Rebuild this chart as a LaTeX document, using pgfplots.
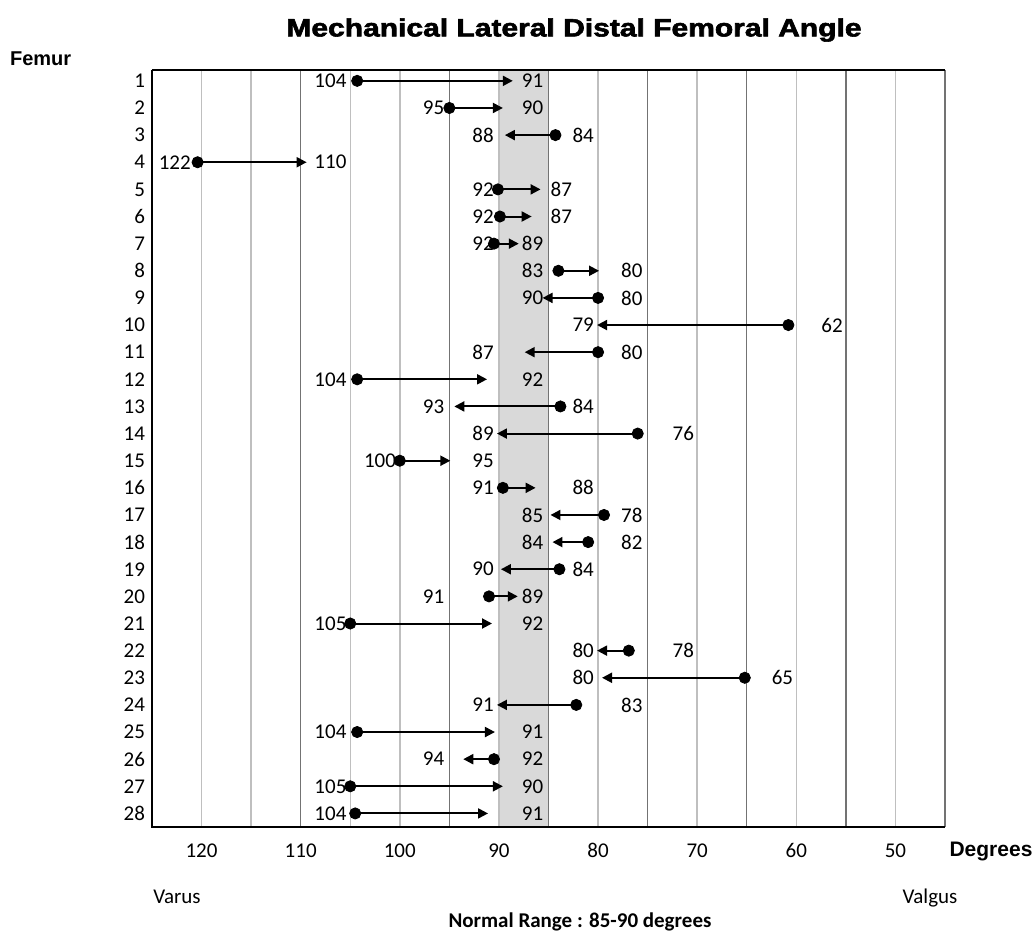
\documentclass[border=0pt]{standalone}
\usepackage{fontspec}
\setmainfont{Carlito}[Numbers=Lining]
\newfontfamily\arialfont{Liberation Sans}
\newfontfamily\titlefont{Liberation Sans}[BoldFeatures={FakeBold=2.2}]
\usepackage{graphicx}
\usepackage{pgfplots}
\usepackage{pgfplotstable}
\pgfplotsset{compat=1.18}
\usetikzlibrary{arrows.meta}

% femur, start angle (dot), end angle (arrow tip)
\pgfplotstableread{
r s e
1 104.3 88.6
2 95.0 89.6
3 84.3 89.4
4 120.4 109.4
5 90.1 85.8
6 89.9 86.7
7 90.5 88.0
8 84.0 79.9
9 80.0 85.6
10 60.8 80.1
11 80.0 87.4
12 104.3 91.2
13 83.8 94.5
14 76.0 90.2
15 100.0 94.9
16 89.6 86.3
17 79.4 84.8
18 81.0 84.6
19 83.9 89.8
20 91.0 88.1
21 105.0 90.7
22 76.9 80.1
23 65.2 79.6
24 82.2 90.2
25 104.3 90.4
26 90.5 93.6
27 105.0 89.6
28 104.5 91.1
}\arrowdata

% value labels
\pgfplotstableread{
x y t
107.0 1 104
86.6 1 91
96.6 2 95
86.6 2 90
91.6 3 88
81.5 3 84
122.7 4 122
107.0 4 110
91.6 5 92
83.7 5 87
91.6 6 92
83.7 6 87
91.6 7 92
86.6 7 89
86.6 8 83
76.6 8 80
86.6 9 90
76.6 9 80
81.5 10 79
56.4 10 62
91.6 11 87
76.6 11 80
107.0 12 104
86.6 12 92
96.6 13 93
81.5 13 84
91.6 14 89
71.4 14 76
102.0 15 100
91.6 15 95
91.6 16 91
81.5 16 88
86.6 17 85
76.6 17 78
86.6 18 84
76.6 18 82
91.6 19 90
81.5 19 84
96.6 20 91
86.6 20 89
107.0 21 105
86.6 21 92
81.5 22 80
71.4 22 78
81.5 23 80
61.4 23 65
91.6 24 91
76.6 24 83
107.0 25 104
86.6 25 91
96.6 26 94
86.6 26 92
107.0 27 105
86.6 27 90
107.0 28 104
86.6 28 91
}\labeldata

\begin{document}
\begin{tikzpicture}
\begin{axis}[
  set layers,
  scale only axis,
  width=396.5pt, height=378.5pt,
  xmin=45, xmax=125, x dir=reverse,
  ymin=0.6, ymax=28.5, y dir=reverse,
  axis line style={draw=none},
  xtick={120,110,...,50},
  minor xtick={115,105,...,55},
  ytick={1,...,28},
  major tick length=0pt, minor tick length=0pt,
  xmajorgrids, xminorgrids,
  major grid style={line width=0.7pt, black!25},
  minor grid style={line width=0.7pt, black!25},
  extra x ticks={110,95,85,75,65,55},
  extra x tick labels={},
  extra x tick style={grid=major, major grid style={line width=0.7pt, black!55}},
  tick label style={font=\fontsize{10.5}{12}\selectfont},
  xticklabel style={anchor=north, text height=1.6ex, text depth=0pt, yshift=-4pt},
  /pgf/number format/assume math mode=true,
  clip=false,
]
\begin{pgfonlayer}{axis background}
\fill[black!15] (axis cs:90,0.6) rectangle (axis cs:85,28.5);
\end{pgfonlayer}

\addplot[black, line width=1pt, no marks, -{Triangle[length=5pt,width=5pt]},
  quiver={u=\thisrow{e}-\thisrow{s}, v=0}] table[x=s, y=r] {\arrowdata};
\addplot[only marks, mark=*, mark size=2.8pt, black] table[x=s, y=r] {\arrowdata};
\addplot[only marks, mark=none, nodes near coords, point meta=explicit symbolic,
  every node near coord/.append style={anchor=center, inner sep=0pt, font=\fontsize{10.5}{12}\selectfont}]
  table[x=x, y=y, meta=t] {\labeldata};

% frame
\draw[black!55, line width=0.7pt] (axis cs:45,0.6) -- (axis cs:45,28.5);
\draw[black, line width=0.8pt] (axis cs:125,0.6) -- (axis cs:45,0.6);
\draw[black, line width=1.3pt] (axis cs:125,0.6) -- (axis cs:125,28.5) -- (axis cs:45,28.5);
\end{axis}

\node[font=\titlefont\bfseries\fontsize{12.5}{14}\selectfont] at (211pt,398.5pt) {\scalebox{1.2}[1]{Mechanical Lateral Distal Femoral Angle}};
\node[anchor=west, font=\arialfont\bfseries\fontsize{10}{12}\selectfont] at (-74.5pt,384pt) {Femur};
\node[font=\arialfont\bfseries\fontsize{10.5}{12}\selectfont] at (419.5pt,-12pt) {Degrees};
\node[anchor=base, font=\fontsize{10.5}{12}\selectfont] at (12.5pt,-38pt) {Varus};
\node[anchor=base, font=\fontsize{10.5}{12}\selectfont] at (389pt,-38pt) {Valgus};
\node[font=\bfseries\fontsize{10.5}{12}\selectfont] at (214pt,-47.5pt) {Normal Range : 85-90 degrees};
\pgfresetboundingbox
\useasboundingbox (-76pt,-52.5pt) rectangle (440.5pt,413.5pt);
\end{tikzpicture}
\end{document}
